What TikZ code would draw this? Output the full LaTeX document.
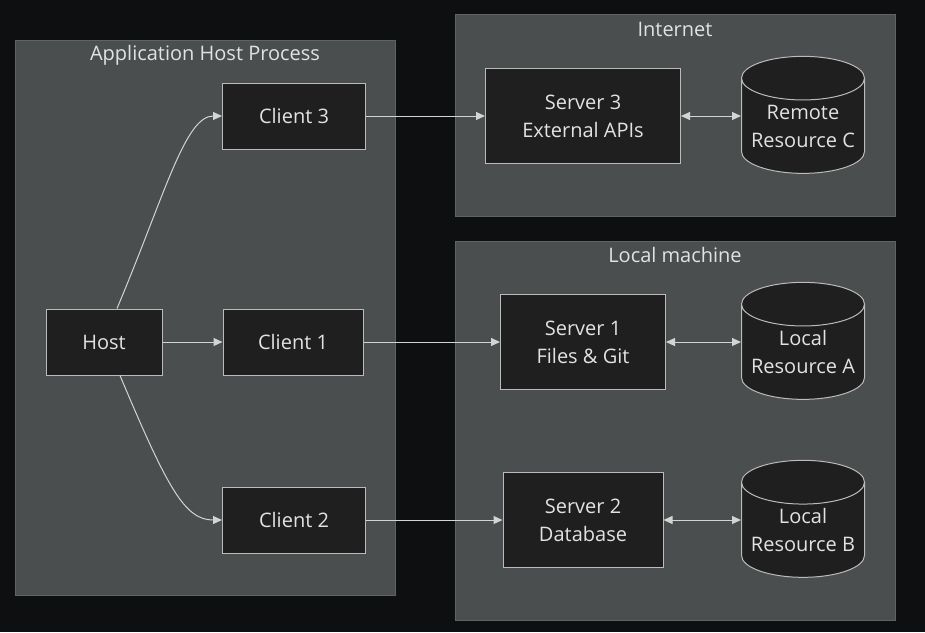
\documentclass[tikz,border=0pt]{standalone}
\usepackage{fontspec}
\setmainfont{Open Sans}
\usetikzlibrary{arrows.meta,shapes.geometric}

\definecolor{bgcol}{HTML}{0E0F11}
\definecolor{grpfill}{HTML}{4A4E4F}
\definecolor{grpline}{HTML}{5E6363}
\definecolor{boxfill}{HTML}{1F1F1F}
\definecolor{boxline}{HTML}{BBBBBB}
\definecolor{txtcol}{HTML}{E2E2E2}
\definecolor{linkcol}{HTML}{D4D4D4}

\tikzset{
  grp/.style={fill=grpfill,draw=grpline,line width=1pt},
  grptitle/.style={text=txtcol,font=\fontsize{20}{24}\selectfont,inner sep=0pt},
  box/.style={rectangle,fill=boxfill,draw=boxline,line width=1pt,text=txtcol,align=center,
    font=\fontsize{20}{28}\selectfont,inner sep=0pt},
  store/.style={cylinder,shape border rotate=90,aspect=0.42,fill=boxfill,draw=boxline,line width=1pt,
    text=txtcol,align=center,font=\fontsize{20}{28}\selectfont,inner sep=0pt,
    minimum width=123pt,minimum height=117pt},
  tip/.tip={Triangle[length=9pt,width=8pt]},
  link/.style={draw=linkcol,line width=1pt,-tip},
  biline/.style={draw=linkcol,line width=1pt,tip-tip},
}

\begin{document}
\begin{tikzpicture}[x=1pt,y=-1pt]
  \fill[bgcol] (0,0) rectangle (925,632); % 背景
  \useasboundingbox (0,0) rectangle (925,632);

  \filldraw[grp] (15,40) rectangle (395,595); % アプリケーション側の枠
  \filldraw[grp] (455,14) rectangle (895,216); % インターネット側の枠
  \filldraw[grp] (455,241) rectangle (895,620); % ローカル側の枠
  \node[grptitle] (apptitle) at (205,55) {Application Host Process};
  \node[grptitle] (nettitle) at (675,29) {Internet};
  \node[grptitle] (localtitle) at (675,255) {Local machine};

  \node[box,minimum width=116pt,minimum height=66pt] (host) at (104,342) {Host};
  \node[box,minimum width=143pt,minimum height=66pt] (client3) at (294,116) {Client 3};
  \node[box,minimum width=140pt,minimum height=66pt] (client1) at (293,342) {Client 1};
  \node[box,minimum width=143pt,minimum height=66pt] (client2) at (294,520) {Client 2};

  \node[box,minimum width=195pt,minimum height=95pt] (server3) at (583,116) {Server 3\\External APIs};
  \node[box,minimum width=165pt,minimum height=95pt] (server1) at (583,342) {Server 1\\Files \& Git};
  \node[box,minimum width=160pt,minimum height=95pt] (server2) at (583,520) {Server 2\\Database};

  \node[store] (resC) at (803,126) {Remote\\Resource C}; % 円柱は上面の分だけ下げる
  \node[store] (resA) at (803,352) {Local\\Resource A};
  \node[store] (resB) at (803,530) {Local\\Resource B};

  \draw[link] ([xshift=13pt]host.north) .. controls +(48,-114) and +(-37,0) .. (client3.west); % 上へ曲がる線
  \draw[link] (host.east) -- (client1.west);
  \draw[link] ([xshift=16pt]host.south) .. controls +(48,114) and +(-37,0) .. (client2.west); % 下へ曲がる線

  \draw[link] (client3.east) -- (server3.west);
  \draw[link] (client1.east) -- (server1.west);
  \draw[link] (client2.east) -- (server2.west);

  \draw[biline] (server3.east) -- (server3.east -| resC.west); % 両向きの矢印
  \draw[biline] (server1.east) -- (server1.east -| resA.west);
  \draw[biline] (server2.east) -- (server2.east -| resB.west);
\end{tikzpicture}
\end{document}
